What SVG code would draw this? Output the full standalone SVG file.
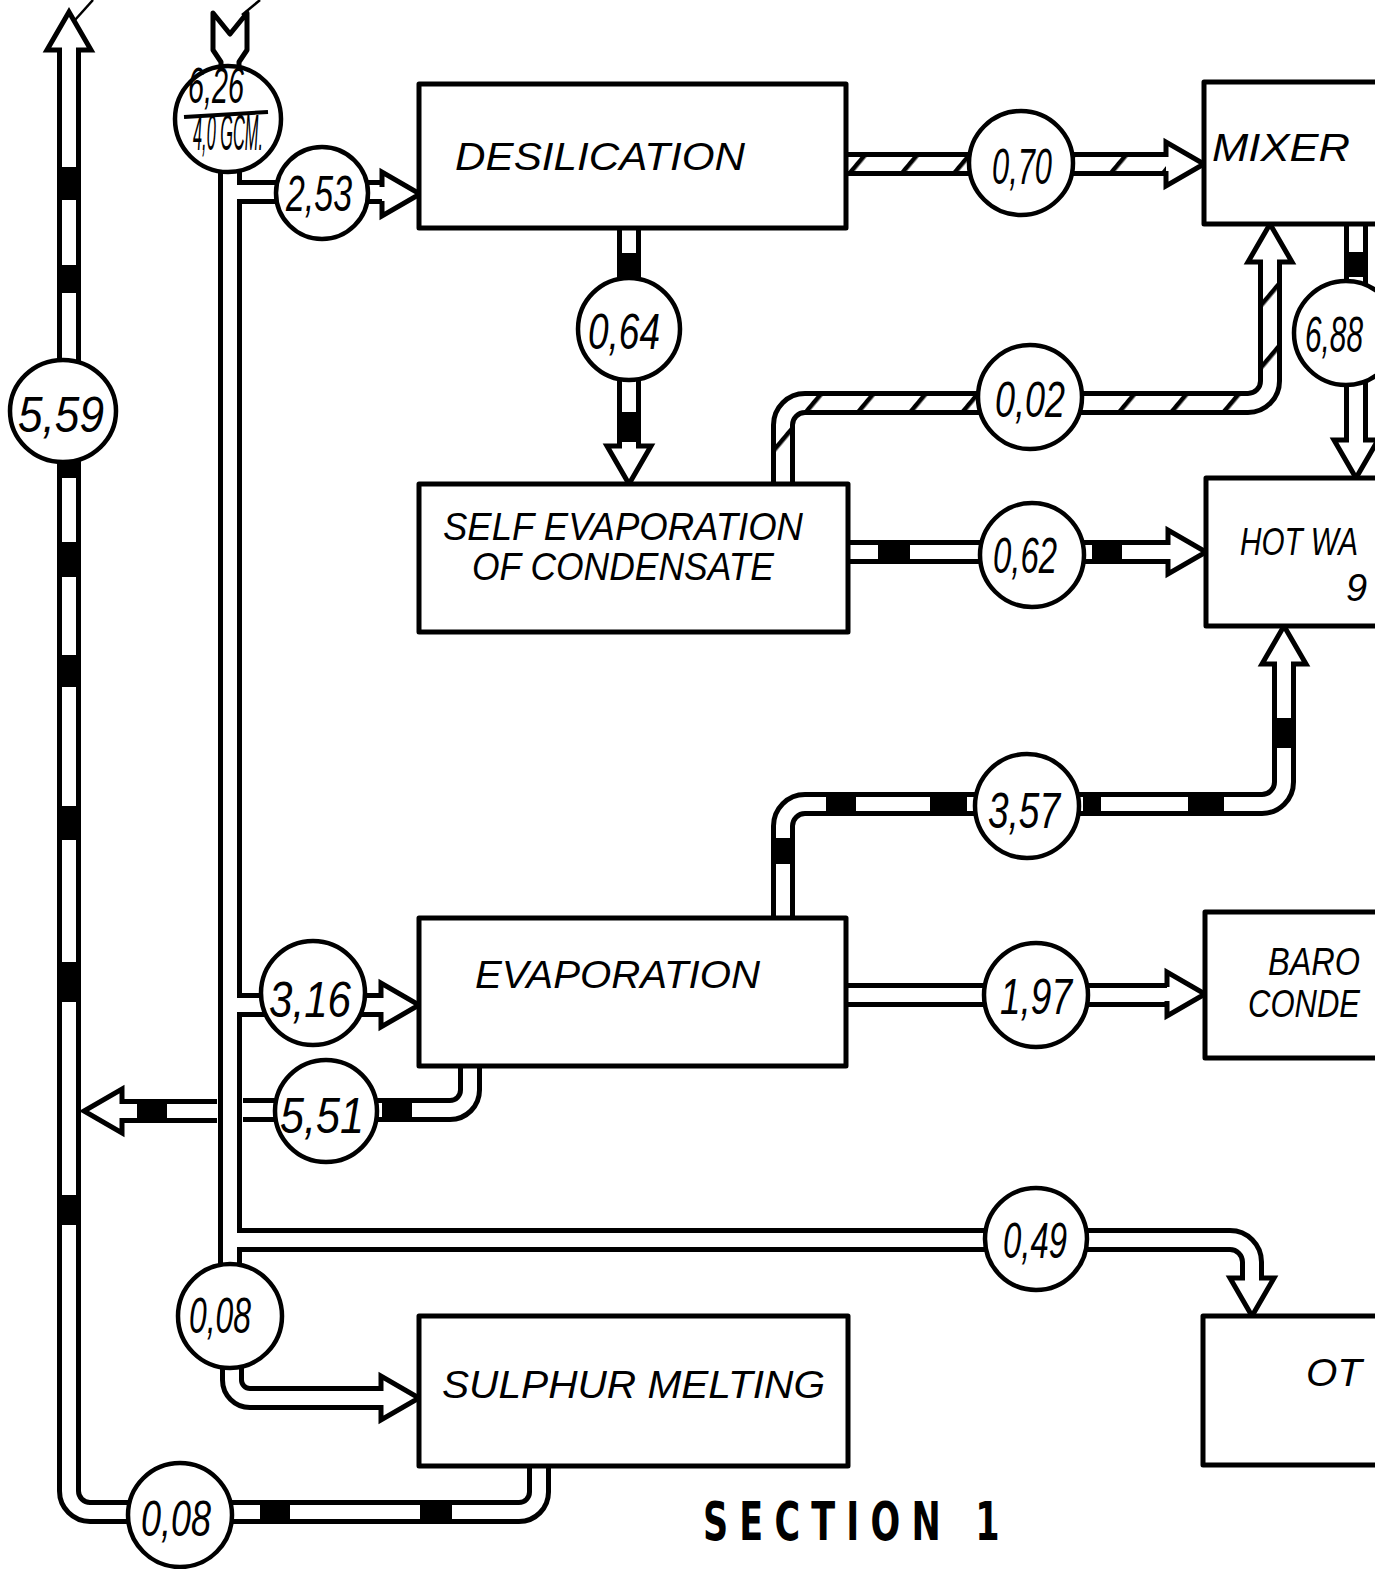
<svg xmlns="http://www.w3.org/2000/svg" width="1375" height="1569" viewBox="0 0 1375 1569">
<style>
.box{fill:#fff;stroke:#000;stroke-width:5;stroke-linejoin:round}
.po{fill:none;stroke:#000;stroke-width:24}
.pi{fill:none;stroke:#fff;stroke-width:14}
.ph{fill:none;stroke:url(#hatch);stroke-width:14}
.bd{fill:#000}
.cir{fill:#fff;stroke:#000;stroke-width:4.5}
.num{font-family:"Liberation Sans",Arial,sans-serif;font-style:italic;font-size:50px;fill:#000;text-anchor:middle}
.lbl{font-family:"Liberation Sans",Arial,sans-serif;font-style:italic;font-size:38px;fill:#000}
.sec{font-family:"DejaVu Sans Condensed","DejaVu Sans",sans-serif;font-weight:bold;font-size:54px;fill:#000}
.thin{fill:none;stroke:#000;stroke-width:2.5}
</style>
<defs>
<pattern id="hatch" patternUnits="userSpaceOnUse" width="40" height="40" patternTransform="rotate(40)">
<rect width="40" height="40" fill="#fff"/><rect x="0" y="0" width="4.5" height="40" fill="#000"/>
</pattern>
<path id="ah" d="M-38,-9.5 L-38,-22 L0,0 L-38,22 L-38,9.5" fill="#fff" stroke="#000" stroke-width="5" stroke-linecap="square" stroke-linejoin="miter"/>
</defs>
<rect width="1375" height="1569" fill="#fff"/>

<g id="connectors">
  <path class="po" d="M539,1466 V1492 A20,20 0 0 1 519,1512 H90 A21,21 0 0 1 69,1491 V48"/>
  <path class="pi" d="M539,1466 V1492 A20,20 0 0 1 519,1512 H90 A21,21 0 0 1 69,1491 V48"/>
  <rect class="bd" x="62" y="167" width="14" height="33"/>
  <rect class="bd" x="62" y="265" width="14" height="28"/>
  <rect class="bd" x="62" y="450" width="14" height="28"/>
  <rect class="bd" x="62" y="542" width="14" height="35"/>
  <rect class="bd" x="62" y="655" width="14" height="32"/>
  <rect class="bd" x="62" y="806" width="14" height="34"/>
  <rect class="bd" x="62" y="962" width="14" height="40"/>
  <rect class="bd" x="62" y="1195" width="14" height="30"/>
  <rect class="bd" x="260" y="1505" width="30" height="14"/>
  <rect class="bd" x="420" y="1505" width="32" height="14"/>
  <use href="#ah" transform="translate(69,12) rotate(-90)"/>
  <path class="thin" d="M75,20 L93,0"/>

  <path class="po" d="M230,170 V1266 M230,192 H384 M230,1005 H382 M230,1240 H1230 A22,22 0 0 1 1252,1262 V1280"/>
  <path class="pi" d="M230,170 V1266 M230,192 H384 M230,1005 H382 M230,1240 H1230 A22,22 0 0 1 1252,1262 V1280"/>
  <use href="#ah" transform="translate(420,194)"/>
  <use href="#ah" transform="translate(419,1005)"/>
  <use href="#ah" transform="translate(1252,1316) rotate(90)"/>
  <polygon points="213,13 230,34 247,13 247,50 239,62 239,78 221,78 221,62 213,50" fill="#fff" stroke="#000" stroke-width="5" stroke-linejoin="round"/>
  <path class="thin" d="M242,15 L260,0"/>

  <path class="po" d="M232,1330 V1380 A18,18 0 0 0 250,1398 H382"/>
  <path class="pi" d="M232,1330 V1380 A18,18 0 0 0 250,1398 H382"/>
  <use href="#ah" transform="translate(419,1398)"/>

  <path class="po" d="M470,1066 V1090 A20,20 0 0 1 450,1110 H243"/>
  <path class="pi" d="M470,1066 V1090 A20,20 0 0 1 450,1110 H243"/>
  <path class="po" d="M217,1111 H121"/>
  <path class="pi" d="M217,1111 H121"/>
  <rect class="bd" x="137" y="1104" width="30" height="14"/>
  <rect class="bd" x="382" y="1103" width="30" height="14"/>
  <use href="#ah" transform="translate(84,1111) rotate(180)"/>

  <path class="po" d="M846,164 H1167"/>
  <path class="ph" d="M846,164 H1167"/>
  <use href="#ah" transform="translate(1204,164)"/>

  <path class="po" d="M629,228 V447"/>
  <path class="pi" d="M629,228 V447"/>
  <rect class="bd" x="622" y="253" width="14" height="27"/>
  <rect class="bd" x="622" y="412" width="14" height="30"/>
  <use href="#ah" transform="translate(629,484) rotate(90)"/>

  <path class="po" d="M783,484 V425 A22,22 0 0 1 805,403 H1248 A22,22 0 0 0 1270,381 V261"/>
  <path class="ph" d="M783,484 V425 A22,22 0 0 1 805,403 H1248 A22,22 0 0 0 1270,381 V261"/>
  <use href="#ah" transform="translate(1270,224) rotate(-90)"/>

  <path class="po" d="M1356,224 V441"/>
  <path class="pi" d="M1356,224 V441"/>
  <rect class="bd" x="1349" y="252" width="14" height="25"/>
  <use href="#ah" transform="translate(1356,478) rotate(90)"/>

  <path class="po" d="M848,552 H1169"/>
  <path class="pi" d="M848,552 H1169"/>
  <rect class="bd" x="878" y="545" width="32" height="14"/>
  <rect class="bd" x="1092" y="545" width="30" height="14"/>
  <use href="#ah" transform="translate(1206,552)"/>

  <path class="po" d="M783,918 V826 A22,22 0 0 1 805,804 H1262 A22,22 0 0 0 1284,782 V663"/>
  <path class="pi" d="M783,918 V826 A22,22 0 0 1 805,804 H1262 A22,22 0 0 0 1284,782 V663"/>
  <rect class="bd" x="776" y="838" width="14" height="26"/>
  <rect class="bd" x="826" y="797" width="30" height="14"/>
  <rect class="bd" x="930" y="797" width="37" height="14"/>
  <rect class="bd" x="1083" y="797" width="18" height="14"/>
  <rect class="bd" x="1188" y="797" width="36" height="14"/>
  <rect class="bd" x="1277" y="718" width="14" height="30"/>
  <use href="#ah" transform="translate(1284,626) rotate(-90)"/>

  <path class="po" d="M846,995 H1168"/>
  <path class="pi" d="M846,995 H1168"/>
  <use href="#ah" transform="translate(1205,994)"/>
</g>

<g id="node-desilication">
  <rect class="box" x="419" y="84" width="427" height="144"/>
  <text class="lbl" x="455" y="170" textLength="290" lengthAdjust="spacingAndGlyphs" font-size="44">DESILICATION</text>
</g>
<g id="node-mixer">
  <rect class="box" x="1204" y="82" width="250" height="142"/>
  <text class="lbl" x="1212" y="161" textLength="138" lengthAdjust="spacingAndGlyphs" font-size="44">MIXER</text>
</g>
<g id="node-self-evaporation">
  <rect class="box" x="419" y="484" width="429" height="148"/>
  <text class="lbl" x="443" y="540" textLength="360" lengthAdjust="spacingAndGlyphs">SELF EVAPORATION</text>
  <text class="lbl" x="472" y="580" textLength="302" lengthAdjust="spacingAndGlyphs">OF CONDENSATE</text>
</g>
<g id="node-hot-water">
  <rect class="box" x="1206" y="478" width="250" height="148"/>
  <text class="lbl" x="1240" y="555" textLength="118" lengthAdjust="spacingAndGlyphs" font-size="34">HOT WA</text>
  <text class="lbl" x="1346" y="601" font-size="34">9</text>
</g>
<g id="node-evaporation">
  <rect class="box" x="419" y="918" width="427" height="148"/>
  <text class="lbl" x="475" y="988" textLength="285" lengthAdjust="spacingAndGlyphs" font-size="40">EVAPORATION</text>
</g>
<g id="node-barometric">
  <rect class="box" x="1205" y="912" width="250" height="146"/>
  <text class="lbl" x="1268" y="975" textLength="92" lengthAdjust="spacingAndGlyphs">BARO</text>
  <text class="lbl" x="1248" y="1017" textLength="112" lengthAdjust="spacingAndGlyphs">CONDE</text>
</g>
<g id="node-sulphur">
  <rect class="box" x="419" y="1316" width="429" height="150"/>
  <text class="lbl" x="442" y="1398" textLength="383" lengthAdjust="spacingAndGlyphs">SULPHUR MELTING</text>
</g>
<g id="node-other">
  <rect class="box" x="1203" y="1316" width="250" height="149"/>
  <text class="lbl" x="1306" y="1386" textLength="56" lengthAdjust="spacingAndGlyphs" font-size="40">OT</text>
</g>

<g id="flow-626">
  <circle class="cir" cx="228" cy="119" r="53"/>
  <text class="num" x="216" y="103" textLength="56" lengthAdjust="spacingAndGlyphs" font-size="30">6,26</text>
  <path d="M184,117 L268,112" stroke="#000" stroke-width="4" fill="none"/>
  <text class="num" x="228" y="150" textLength="70" lengthAdjust="spacingAndGlyphs" font-size="20">4,0 GCM.</text>
</g>
<g id="flow-253"><circle class="cir" cx="322" cy="193" r="46"/><text class="num" x="319" y="211" textLength="66" lengthAdjust="spacingAndGlyphs">2,53</text></g>
<g id="flow-070"><circle class="cir" cx="1021" cy="163" r="52"/><text class="num" x="1022" y="184" textLength="60" lengthAdjust="spacingAndGlyphs">0,70</text></g>
<g id="flow-064"><circle class="cir" cx="629" cy="329" r="51"/><text class="num" x="624" y="349" textLength="72" lengthAdjust="spacingAndGlyphs">0,64</text></g>
<g id="flow-002"><circle class="cir" cx="1030" cy="397" r="52"/><text class="num" x="1030" y="417" textLength="70" lengthAdjust="spacingAndGlyphs">0,02</text></g>
<g id="flow-688"><circle class="cir" cx="1346" cy="333" r="52"/><text class="num" x="1334" y="352" textLength="58" lengthAdjust="spacingAndGlyphs">6,88</text></g>
<g id="flow-062"><circle class="cir" cx="1032" cy="555" r="52"/><text class="num" x="1025" y="573" textLength="64" lengthAdjust="spacingAndGlyphs">0,62</text></g>
<g id="flow-357"><circle class="cir" cx="1027" cy="806" r="52"/><text class="num" x="1024" y="828" textLength="72" lengthAdjust="spacingAndGlyphs">3,57</text></g>
<g id="flow-316"><circle class="cir" cx="313" cy="993" r="52"/><text class="num" x="310" y="1017" textLength="82" lengthAdjust="spacingAndGlyphs">3,16</text></g>
<g id="flow-551"><circle class="cir" cx="326" cy="1111" r="51"/><text class="num" x="322" y="1133" textLength="84" lengthAdjust="spacingAndGlyphs">5,51</text></g>
<g id="flow-197"><circle class="cir" cx="1036" cy="995" r="52"/><text class="num" x="1036" y="1014" textLength="72" lengthAdjust="spacingAndGlyphs">1,97</text></g>
<g id="flow-049"><circle class="cir" cx="1036" cy="1239" r="51"/><text class="num" x="1035" y="1258" textLength="64" lengthAdjust="spacingAndGlyphs">0,49</text></g>
<g id="flow-008a"><circle class="cir" cx="230" cy="1316" r="52"/><text class="num" x="220" y="1333" textLength="62" lengthAdjust="spacingAndGlyphs">0,08</text></g>
<g id="flow-008b"><circle class="cir" cx="180" cy="1515" r="52"/><text class="num" x="176" y="1536" textLength="70" lengthAdjust="spacingAndGlyphs">0,08</text></g>
<g id="flow-559"><ellipse class="cir" cx="63" cy="411" rx="53" ry="51"/><text class="num" x="61" y="432" textLength="86" lengthAdjust="spacingAndGlyphs">5,59</text></g>

<text class="sec" transform="translate(703,1540) scale(0.72,1)" x="0" y="0" textLength="412" lengthAdjust="spacing">SECTION 1</text>
</svg>
